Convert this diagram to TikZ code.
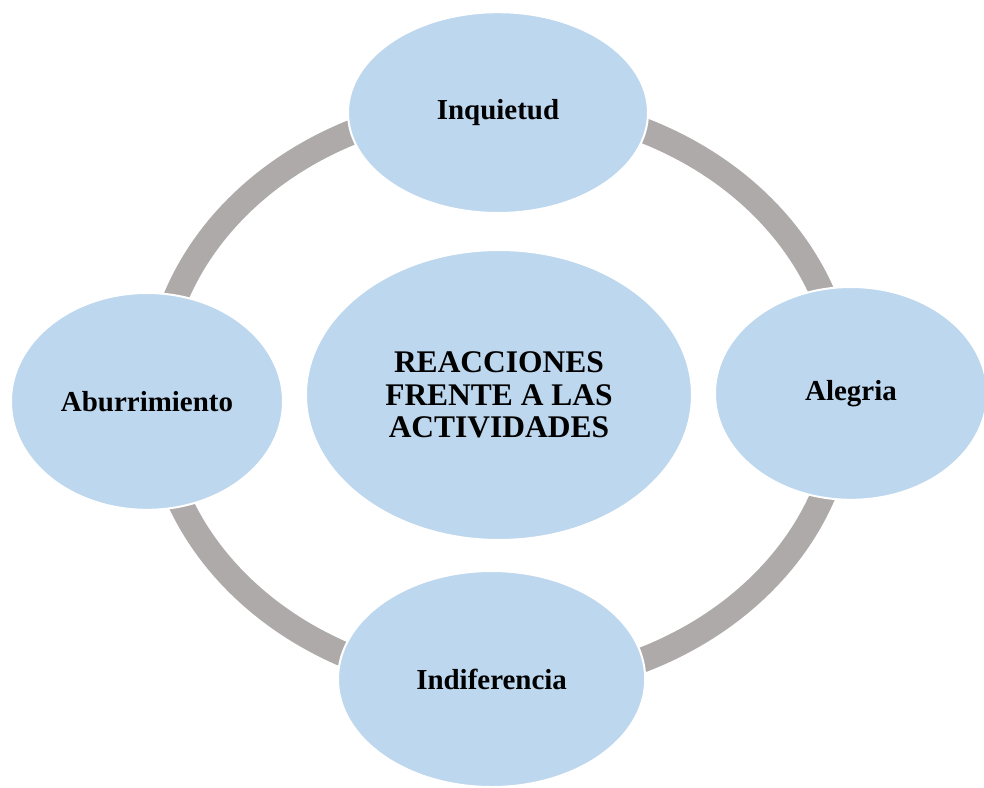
\documentclass[tikz,border=0pt]{standalone}
\usepackage{fontspec}
\setmainfont{Liberation Serif}
\usetikzlibrary{shapes.geometric}
\definecolor{cyclefill}{HTML}{BDD7EE}
\definecolor{cyclering}{HTML}{AEAAAA}
\begin{document}
\begin{tikzpicture}[
  bubble/.style={ellipse, fill=cyclefill, draw=white, line width=.05cm, inner sep=0pt,
    font=\fontsize{20.6}{24}\selectfont\bfseries},
  hub/.style={bubble, minimum width=9.65cm, minimum height=7.25cm, align=center,
    font=\fontsize{22.4}{23.2}\selectfont\bfseries}
]

\clip (-12.5,-9.8) rectangle (12.1,9.875);

%%%%%% Ring %%%%%%%
\coordinate (ringc) at (0,0);
\draw[cyclering, line width=.625cm] (ringc) ellipse [x radius=8.6, y radius=7.275];

%%%%%% Center %%%%%%%
\node (reacciones) at (-.025,0) [hub] {REACCIONES\\FRENTE A LAS\\ACTIVIDADES};

%%%%%% Around %%%%%%%
\node (inquietud) at (-.05,7.06) [bubble, minimum width=7.5cm, minimum height=5.02cm] {Inquietud};
\node (alegria) at (8.775,.04) [bubble, minimum width=6.8cm, minimum height=5.32cm] {Alegria};
\node (indiferencia) at (-.21,-7.1) [bubble, minimum width=7.68cm, minimum height=5.4cm] {Indiferencia};
\node (aburrimiento) at (-8.825,-.16) [bubble, minimum width=6.8cm, minimum height=5.42cm] {Aburrimiento};

\end{tikzpicture}
\end{document}
